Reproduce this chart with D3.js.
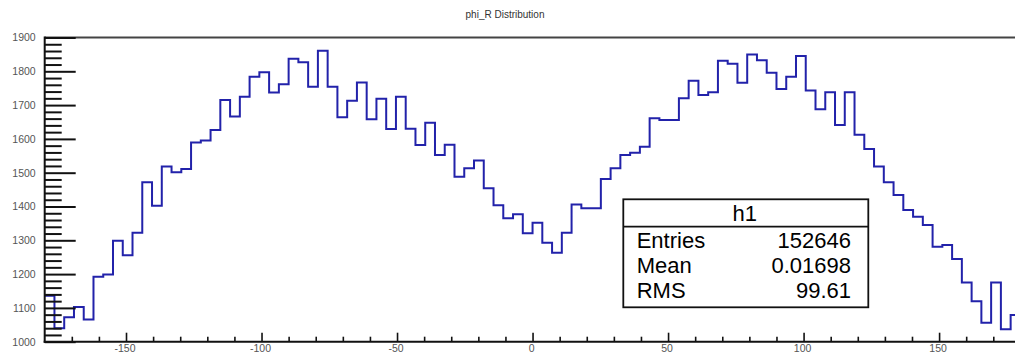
<!DOCTYPE html>
<html>
<head>
<meta charset="utf-8">
<script src="https://cdn.jsdelivr.net/npm/d3@7"></script>
<style>
  html, body { margin: 0; padding: 0; background: #fff; }
  svg { display: block; font-family: "Liberation Sans", Arial, sans-serif; }
</style>
</head>
<body>
<svg id="chart" width="1015" height="354"></svg>
<script>
// Histogram h1: phi_R, 100 bins over [-180, 180]
const histName = "h1";
const titleText = "phi_R Distribution";
const xRange = [-180, 180];
const yRange = [1000, 1900];
const binCounts = [
  1136, 1040, 1072, 1103, 1066, 1192, 1199, 1299, 1256, 1322,
  1472, 1402, 1518, 1501, 1511, 1589, 1595, 1626, 1715, 1666,
  1725, 1784, 1797, 1737, 1762, 1837, 1827, 1754, 1861, 1754,
  1664, 1713, 1767, 1658, 1719, 1629, 1725, 1630, 1582, 1648,
  1552, 1583, 1488, 1513, 1536, 1454, 1404, 1365, 1377, 1321,
  1352, 1293, 1263, 1322, 1406, 1395, 1395, 1481, 1513, 1552,
  1559, 1577, 1661, 1656, 1656, 1720, 1772, 1730, 1738, 1831,
  1822, 1766, 1850, 1833, 1796, 1748, 1784, 1845, 1743, 1688,
  1738, 1641, 1738, 1612, 1570, 1518, 1472, 1434, 1390, 1370,
  1345, 1281, 1286, 1245, 1175, 1120, 1056, 1175, 1037, 1079
];
const xMajorTicks = [-150, -100, -50, 0, 50, 100, 150];
const xMinorTicks = d3.range(-170, 180, 10).filter(v => v % 50 !== 0);
const yMajorTicks = [1000, 1100, 1200, 1300, 1400, 1500, 1600, 1700, 1800, 1900];
const yMinorTicks = d3.range(1020, 1900, 20).filter(v => v % 100 !== 0);
const statLabels = ["Entries", "Mean", "RMS"];
const statValues = ["152646", "0.01698", "99.61"];

const svg = d3.select("#chart");

const frame = { left: 44.7, right: 1020.4, top: 37.5, bottom: 341.7 };
const x = d3.scaleLinear().domain(xRange).range([frame.left, frame.right]);
const y = d3.scaleLinear().domain(yRange).range([frame.bottom, frame.top]);
const plainNumber = d => String(d);

// Title
svg.append("text")
  .attr("x", 505).attr("y", 18)
  .attr("text-anchor", "middle")
  .attr("font-size", 10)
  .attr("fill", "#333")
  .text(titleText);

// Histogram outline (step line)
const nBins = binCounts.length;
const binW = (xRange[1] - xRange[0]) / nBins;
const pts = [];
binCounts.forEach((c, i) => {
  const lo = xRange[0] + i * binW, hi = lo + binW;
  pts.push([x(lo), y(c)], [x(hi), y(c)]);
});
svg.append("path")
  .attr("d", d3.line()(pts))
  .attr("fill", "none")
  .attr("stroke", "#2222aa")
  .attr("stroke-width", 2)
  .attr("stroke-linejoin", "miter");

// Frame: top border
svg.append("line")
  .attr("x1", frame.left).attr("x2", frame.right)
  .attr("y1", frame.top).attr("y2", frame.top)
  .attr("stroke", "#444").attr("stroke-width", 2);

// Y axis: ticks point inward, labels to the left
function styleAxis(g, w) {
  g.select(".domain").remove();
  g.selectAll(".tick line").attr("stroke", "#111").attr("stroke-width", w);
}
svg.append("g").attr("transform", `translate(${frame.left},0)`)
  .call(d3.axisRight(y).tickValues(yMinorTicks).tickSize(17).tickFormat(""))
  .call(g => styleAxis(g, 2));
svg.append("g").attr("transform", `translate(${frame.left},0)`)
  .call(d3.axisRight(y).tickValues(yMajorTicks).tickSize(31).tickFormat(""))
  .call(g => styleAxis(g, 2));
svg.append("g").attr("transform", `translate(${frame.left},0)`)
  .call(d3.axisLeft(y).tickValues(yMajorTicks).tickSize(0).tickPadding(9).tickFormat(plainNumber))
  .call(g => {
    g.select(".domain").remove();
    g.selectAll("text").attr("font-size", 10.5).attr("fill", "#555")
      .attr("font-family", "Liberation Sans, Arial, sans-serif");
  });
svg.append("line")
  .attr("x1", frame.left).attr("x2", frame.left)
  .attr("y1", frame.top - 1).attr("y2", frame.bottom + 1)
  .attr("stroke", "#111").attr("stroke-width", 2);

// X axis: ticks point up into the frame
svg.append("g").attr("transform", `translate(0,${frame.bottom})`)
  .call(d3.axisTop(x).tickValues(xMinorTicks).tickSize(5).tickFormat(""))
  .call(g => styleAxis(g, 1.6));
svg.append("g").attr("transform", `translate(0,${frame.bottom})`)
  .call(d3.axisTop(x).tickValues(xMajorTicks).tickSize(9).tickFormat(""))
  .call(g => styleAxis(g, 1.6));
svg.append("g").attr("transform", `translate(-1.5,${frame.bottom})`)
  .call(d3.axisBottom(x).tickValues(xMajorTicks).tickSize(0).tickPadding(2.5).tickFormat(plainNumber))
  .call(g => {
    g.select(".domain").remove();
    g.selectAll("text").attr("font-size", 10.5).attr("fill", "#555")
      .attr("font-family", "Liberation Sans, Arial, sans-serif");
  });
svg.append("line")
  .attr("x1", frame.left - 1).attr("x2", frame.right)
  .attr("y1", frame.bottom).attr("y2", frame.bottom)
  .attr("stroke", "#111").attr("stroke-width", 2);

// Statistics box
const box = { x: 623.3, y: 199.3, w: 245, h: 108, header: 27.4 };
const stats = svg.append("g");
stats.append("rect")
  .attr("x", box.x).attr("y", box.y).attr("width", box.w).attr("height", box.h)
  .attr("fill", "#fff").attr("stroke", "#111").attr("stroke-width", 1.8);
stats.append("line")
  .attr("x1", box.x).attr("x2", box.x + box.w)
  .attr("y1", box.y + box.header).attr("y2", box.y + box.header)
  .attr("stroke", "#111").attr("stroke-width", 1.8);
stats.append("text")
  .attr("x", box.x + box.w / 2 - 1).attr("y", 220.5)
  .attr("text-anchor", "middle").attr("font-size", 22).attr("fill", "#000")
  .text(histName);
const rowBase = [248.3, 273.3, 298.3];
statLabels.forEach((lab, i) => {
  stats.append("text")
    .attr("x", 636.7).attr("y", rowBase[i])
    .attr("font-size", 22).attr("fill", "#000")
    .text(lab);
  stats.append("text")
    .attr("x", 851).attr("y", rowBase[i])
    .attr("text-anchor", "end").attr("font-size", 22).attr("fill", "#000")
    .text(statValues[i]);
});
</script>
</body>
</html>
